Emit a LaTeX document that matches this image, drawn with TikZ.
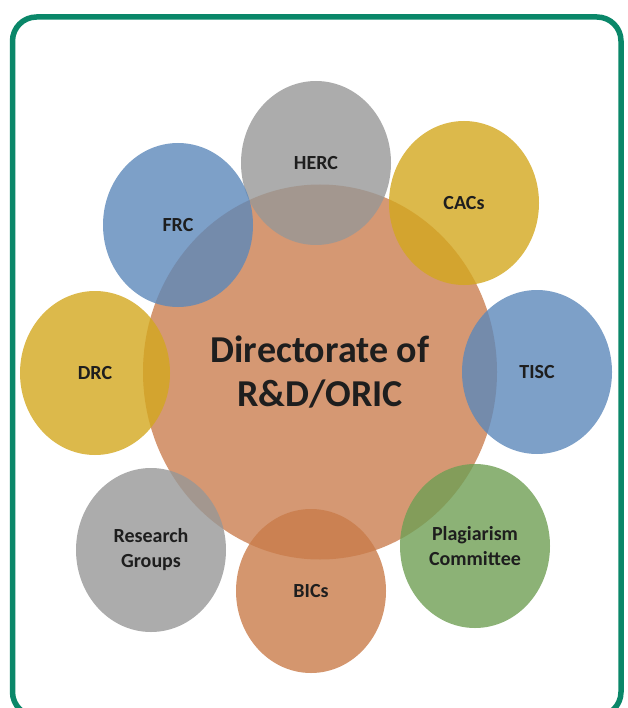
\documentclass[tikz,border=0pt]{standalone}
\usepackage{fontspec}
\setmainfont{Carlito}
\usetikzlibrary{shapes.geometric}

\definecolor{framegreen}{RGB}{10,135,105}
\definecolor{textdark}{RGB}{30,30,30}
\definecolor{hubfill}{RGB}{213,152,115}
\definecolor{unitgray}{RGB}{151,151,151}
\definecolor{unityellow}{RGB}{211,167,30}
\definecolor{unitblue}{RGB}{92,136,186}
\definecolor{unitgreen}{RGB}{111,159,84}
\definecolor{unitorange}{RGB}{201,124,74}

\begin{document}
\begin{tikzpicture}[x=1pt, y=-1pt,
        % Circulo central
        hubbox/.style={
                ellipse,
                minimum width=354pt,
                minimum height=375pt,
                inner sep=0pt,
                align=center,
                font=\bfseries\fontsize{38}{44}\selectfont,
                text=textdark,
                fill=hubfill
            },
        % Circulos alrededor
        unitbox/.style={
                ellipse,
                minimum width=150pt,
                minimum height=164pt,
                inner sep=0pt,
                align=center,
                font=\bfseries\fontsize{20}{25}\selectfont,
                text=textdark,
                fill opacity=0.8,
                text opacity=1
            },
        % Marco exterior
        framebox/.style={
                draw=framegreen,
                line width=5.5pt,
                rounded corners=24pt
            }
    ]

    \clip (0,0) rectangle (627,708);

    % MARCO
    \draw[framebox] (12.5,17) rectangle (621,716);

    % CENTRO
    \node[hubbox] (oric) at (320,372) {Directorate of\\R\&D/ORIC};

    % UNIDADES
    \node[unitbox, fill=unitgray]   (herc)  at (316,163) {HERC};
    \node[unitbox, fill=unityellow] (cacs)  at (464,203) {CACs};
    \node[unitbox, fill=unitblue]   (tisc)  at (537,372) {TISC};
    \node[unitbox, fill=unitgreen]  (plag)  at (475,546) {Plagiarism\\Committee};
    \node[unitbox, fill=unitorange] (bics)  at (311,591) {BICs};
    \node[unitbox, fill=unitgray]   (resg)  at (151,550) {Research\\Groups};
    \node[unitbox, fill=unityellow] (drc)   at (95,373)  {DRC};
    \node[unitbox, fill=unitblue]   (frc)   at (178,225) {FRC};

\end{tikzpicture}
\end{document}
